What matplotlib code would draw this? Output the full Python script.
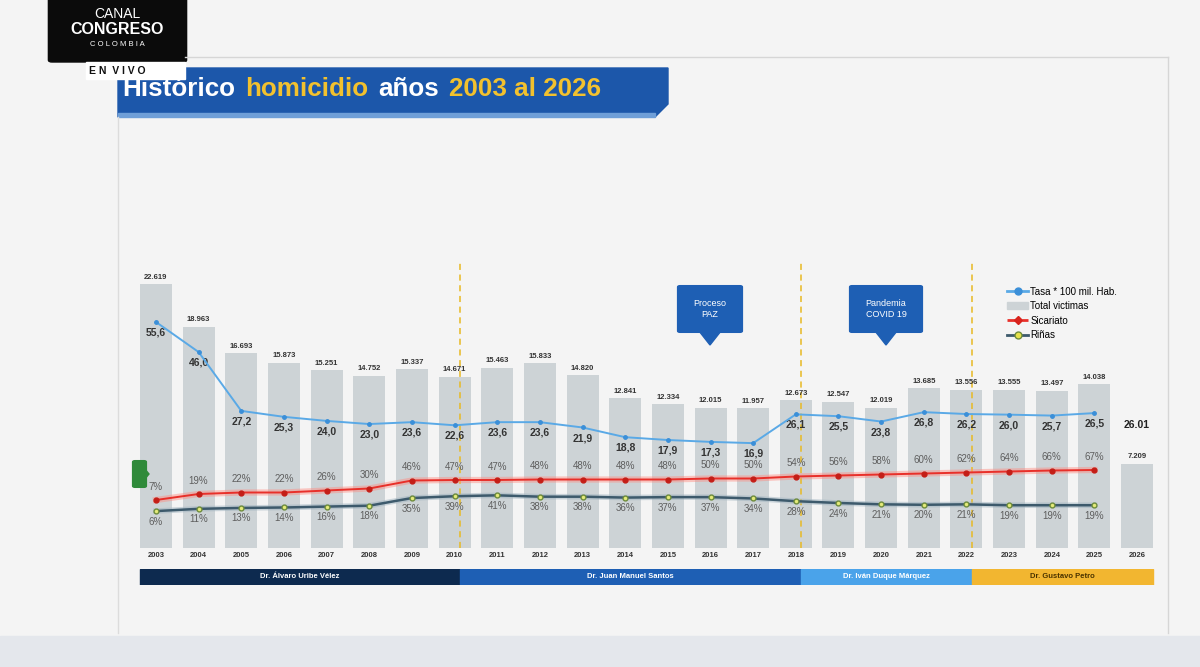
import matplotlib
matplotlib.use("Agg")
import matplotlib.pyplot as plt
from matplotlib.patches import Rectangle, Polygon, FancyBboxPatch, Patch
from matplotlib.lines import Line2D

years = list(range(2003, 2027))
total_victimas = [22619, 18963, 16693, 15873, 15251, 14752, 15337, 14671, 15463, 15833,
                  14820, 12841, 12334, 12015, 11957, 12673, 12547, 12019, 13685, 13556,
                  13555, 13497, 14038, 7209]
tasa = [55.6, 46.0, 27.2, 25.3, 24.0, 23.0, 23.6, 22.6, 23.6, 23.6, 21.9, 18.8,
        17.9, 17.3, 16.9, 26.1, 25.5, 23.8, 26.8, 26.2, 26.0, 25.7, 26.5]
tasa_2026 = 26.01
sicariato = [7, 19, 22, 22, 26, 30, 46, 47, 47, 48, 48, 48, 48, 50, 50, 54, 56, 58,
             60, 62, 64, 66, 67]
rinas = [6, 11, 13, 14, 16, 18, 35, 39, 41, 38, 38, 36, 37, 37, 34, 28, 24, 21, 20,
         21, 19, 19, 19]
presidentes = ["Dr. Álvaro Uribe Vélez", "Dr. Juan Manuel Santos",
               "Dr. Iván Duque Márquez", "Dr. Gustavo Petro"]
cambios = [2010, 2018, 2022]

W, H = 1200, 667
def fx(x):
    return x / W
def fy(y):
    return 1 - y / H

fig = plt.figure(figsize=(12, 6.67), dpi=100)
fig.patch.set_facecolor("#f4f4f4")
plt.rcParams["font.family"] = ["Liberation Sans", "DejaVu Sans"]

# slide frame
fig.add_artist(Rectangle((fx(0), fy(667)), 1, (667 - 636) / H, transform=fig.transFigure,
                         color="#e4e7ec", zorder=0))
fig.add_artist(Line2D([fx(185), fx(1168)], [fy(57), fy(57)], transform=fig.transFigure,
                      color="#d6d6d6", lw=1))
fig.add_artist(Line2D([fx(1168), fx(1168)], [fy(57), fy(633)], transform=fig.transFigure,
                      color="#d6d6d6", lw=1))
fig.add_artist(Line2D([fx(118), fx(118)], [fy(117), fy(633)], transform=fig.transFigure,
                      color="#dcdcdc", lw=1))

# title banner
fig.add_artist(Polygon([(fx(118), fy(68)), (fx(668), fy(68)), (fx(668), fy(104)),
                        (fx(655), fy(117)), (fx(118), fy(117))],
                       closed=True, transform=fig.transFigure, color="#1c57aa"))
fig.add_artist(Rectangle((fx(118), fy(117)), (655 - 118) / W, 4 / H,
                         transform=fig.transFigure, color="#6f9fd8"))
renderer = fig.canvas.get_renderer()
x0 = 122
for palabra, col in [("Histórico", "#ffffff"), ("homicidio", "#f2c12e"),
                     ("años", "#ffffff"), ("2003 al 2026", "#f2c12e")]:
    t = fig.text(fx(x0), fy(89), palabra, color=col, fontsize=18.7, fontweight="bold",
                 va="center", ha="left")
    x0 += t.get_window_extent(renderer).width + 10

# broadcast logo
fig.add_artist(FancyBboxPatch((fx(52), fy(60)), (183 - 52) / W, 60 / H,
                              boxstyle="round,pad=0.003", transform=fig.transFigure,
                              color="#0b0b0b"))
fig.text(fx(117), fy(14), "CANAL", color="white", fontsize=10, ha="center", va="center")
fig.text(fx(117), fy(30), "CONGRESO", color="white", fontsize=11.5, fontweight="bold",
         ha="center", va="center")
fig.text(fx(117), fy(45), "C O L O M B I A", color="white", fontsize=5.5, ha="center",
         va="center")
fig.add_artist(Rectangle((fx(86), fy(79)), (185 - 86) / W, 17 / H,
                         transform=fig.transFigure, color="white"))
fig.text(fx(117), fy(71), "E N  V I V O", color="#111111", fontsize=7.5, fontweight="bold",
         ha="center", va="center")

# main axes
x = list(range(len(years)))
pos = [fx(132.5), fy(548), (1158 - 132.5) / W, (548 - 250) / H]
ax = fig.add_axes(pos)
ax.set_xlim(-0.55, 23.49)
ax.set_ylim(0, 25540)
ax.patch.set_alpha(0)
for s in ax.spines.values():
    s.set_visible(False)
ax.set_yticks([])
ax.set_xticks(x)
ax.set_xticklabels([str(a) for a in years], fontsize=5.5, color="#333333",
                   fontweight="bold")
ax.tick_params(axis="x", length=0, pad=3)

ax.bar(x, total_victimas, width=0.75, color="#cdd3d6", zorder=1)
for xi, v in zip(x, total_victimas):
    ax.annotate(f"{v:,}".replace(",", "."), (xi, v), xytext=(0, 2.5),
                textcoords="offset points", ha="center", va="bottom", fontsize=5.5,
                fontweight="bold", color="#333333")

cortes = [c - years[0] + 0.12 for c in cambios]
for c in cortes:
    ax.axvline(c, ymin=0, ymax=0.96, color="#e8b923", lw=1.1, ls=(0, (4, 3)), zorder=2)

# tasa axis
ax2 = fig.add_axes(pos, sharex=ax)
ax2.set_ylim(-16.6, 78.6)
ax2.axis("off")
ax2.plot(x[:len(tasa)], tasa, color="#5aa9e6", lw=1.4, marker="o", ms=2.5,
         mfc="#3b8fd8", mec="#3b8fd8", zorder=4)
for xi, v in zip(x, tasa):
    ax2.annotate(f"{v:.1f}".replace(".", ","), (xi, v), xytext=(0, -4),
                 textcoords="offset points", ha="center", va="top", fontsize=7.5,
                 fontweight="bold", color="#333333")
ax2.annotate(f"{tasa_2026:.2f}", (x[-1], tasa_2026), xytext=(0, -4),
             textcoords="offset points", ha="center", va="top", fontsize=7.5,
             fontweight="bold", color="#222222")

# sicariato axis
ax3 = fig.add_axes(pos, sharex=ax)
ax3.set_ylim(-89, 507)
ax3.axis("off")
xs = x[:len(sicariato)]
ax3.plot(xs, sicariato, color="#ff8a80", lw=4.5, alpha=0.45, zorder=3)
ax3.plot(xs, sicariato, color="#e8302a", lw=1.4, marker="o", ms=3.5, mfc="#c41e17",
         mec="#c41e17", zorder=4)
for xi, v in zip(xs, sicariato):
    ax3.annotate(f"{v}%", (xi, v), xytext=(0, 6), textcoords="offset points",
                 ha="center", va="bottom", fontsize=7, color="#5e5e5e")

# riñas axis
ax4 = fig.add_axes(pos, sharex=ax)
ax4.set_ylim(-76, 586)
ax4.axis("off")
xr = x[:len(rinas)]
ax4.plot(xr, rinas, color="#9fb3bf", lw=4, alpha=0.5, zorder=3)
ax4.plot(xr, rinas, color="#3d5a6c", lw=1.8, marker="o", ms=3.5, mfc="#e4ea7a",
         mec="#6e8c3c", zorder=4)
for xi, v in zip(xr, rinas):
    ax4.annotate(f"{v}%", (xi, v), xytext=(0, -4), textcoords="offset points",
                 ha="center", va="top", fontsize=7, color="#5e5e5e")

# small green tag on top of the first bar
fig.add_artist(FancyBboxPatch((fx(135), fy(486)), 9 / W, 24 / H,
                              boxstyle="round,pad=0.002", transform=fig.transFigure,
                              color="#2f8a3a", zorder=5))
fig.add_artist(Polygon([(fx(144), fy(468)), (fx(144), fy(480)), (fx(149), fy(474))],
                       transform=fig.transFigure, color="#2f8a3a", zorder=5))

# president bands
axb = fig.add_axes([pos[0], fy(585), pos[2], 16 / H], sharex=ax)
axb.set_ylim(0, 1)
axb.axis("off")
bordes = [-0.38] + cortes + [23.38]
colores = ["#0d2a4f", "#1e5fb4", "#4aa3ea", "#f2b630"]
texto_col = ["white", "white", "white", "#4a3300"]
for i, nombre in enumerate(presidentes):
    axb.add_patch(Rectangle((bordes[i], 0), bordes[i + 1] - bordes[i], 1,
                            color=colores[i]))
    axb.text((bordes[i] + bordes[i + 1]) / 2, 0.5, nombre, ha="center", va="center",
             fontsize=5.5, fontweight="bold", color=texto_col[i])

# callouts
for cx, lineas in [(710, "Proceso\nPAZ"), (886, "Pandemia\nCOVID 19")]:
    w = 60 if cx < 800 else 68
    fig.add_artist(FancyBboxPatch((fx(cx - w / 2), fy(331)), w / W, 44 / H,
                                  boxstyle="round,pad=0.002", transform=fig.transFigure,
                                  color="#1e5fb4"))
    fig.add_artist(Polygon([(fx(cx - 11), fy(331)), (fx(cx + 11), fy(331)),
                            (fx(cx), fy(345))], transform=fig.transFigure,
                           color="#1e5fb4"))
    fig.text(fx(cx), fy(309), lineas, ha="center", va="center", fontsize=6.5,
             color="white", linespacing=1.3)

# legend
handles = [
    Line2D([], [], color="#5aa9e6", lw=2, marker="o", ms=5, mfc="#3b8fd8", mec="#3b8fd8"),
    Patch(color="#cdd3d6"),
    Line2D([], [], color="#e8302a", lw=2, ls="--", marker="D", ms=4, mfc="#d8231c",
           mec="#d8231c"),
    Line2D([], [], color="#3d5a6c", lw=2, marker="o", ms=5, mfc="#e6e14a", mec="#6e8c3c"),
]
etiquetas = ["Tasa * 100 mil. Hab.", "Total victimas", "Sicariato", "Riñas"]
ax.legend(handles, etiquetas, loc="upper left", bbox_to_anchor=(fx(1003), fy(283)),
          bbox_transform=fig.transFigure, frameon=False, fontsize=7, handlelength=2.2,
          handletextpad=0.2, labelspacing=0.45, borderaxespad=0)

fig.savefig("out.png", dpi=100, facecolor=fig.get_facecolor())
